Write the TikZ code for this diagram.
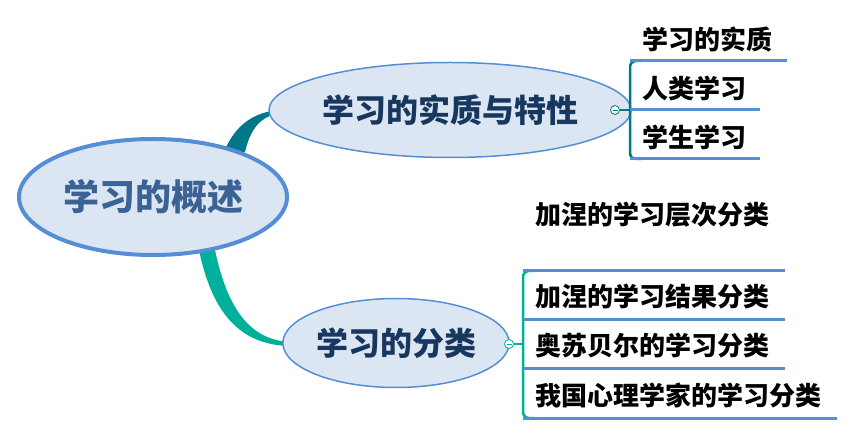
\documentclass[tikz,border=0pt]{standalone}
\usepackage{fontspec}
\setmainfont{Noto Sans CJK SC}
\usetikzlibrary{shapes.geometric,calc}
\definecolor{efill}{HTML}{DCE6F2}
\definecolor{eline}{HTML}{558ED5}
\definecolor{ctext}{HTML}{3A6294}
\definecolor{ntext}{HTML}{17375E}
\definecolor{tealA}{HTML}{00788A}
\definecolor{tealB}{HTML}{00B09B}
\tikzset{
  mainell/.style={ellipse, draw=eline, fill=efill, line width=4pt, inner sep=0pt},
  subell/.style={ellipse, draw=eline, fill=efill, line width=1.5pt, inner sep=0pt, text=ntext, font=\fontsize{32}{36}\selectfont\bfseries},
  leaf/.style={anchor=west, inner sep=0pt, font=\fontsize{26}{30}\selectfont\bfseries, text=black},
  uline/.style={draw=eline, line width=3pt},
  knob/.style={circle, draw=#1, fill=white, line width=0.8pt, minimum size=9pt, inner sep=0pt},
  brk/.style={draw=#1, line width=2.5pt, rounded corners=6pt}
}
\begin{document}
\begin{tikzpicture}[x=1pt,y=-1pt]
\useasboundingbox (0,0) rectangle (854,435);
% tapered connectors
\fill[tealA] (224,152) .. controls (238,118) and (262,109) .. (294,109)
  -- (294,112) .. controls (266,112) and (252,122) .. (245,152) -- cycle;
\fill[tealB] (199,250) .. controls (213,318) and (244,346) .. (292,346)
  -- (292,342) .. controls (252,341) and (228,312) .. (215,250) -- cycle;
% ellipses
\node[mainell, minimum width=268pt, minimum height=116pt, text=ctext,
  font=\fontsize{36}{40}\selectfont\bfseries] (c) at (153,197) {学习的概述};
\node[subell, minimum width=315pt, minimum height=95pt] (t) at (450,110) {学习的实质与特性};
\node[subell, minimum width=211pt, minimum height=89pt] (b) at (396,343) {学习的分类};
% top branch
\node[knob=tealA] (tk) at (615,110) {};
\draw[tealA, line width=0.8pt] ($(tk.center)+(-2.5,0)$) -- ($(tk.center)+(2.5,0)$);
\coordinate (tj) at (630,110);
\draw[tealA, line width=2.5pt] (tk.east) -- (tj);
\draw[brk=tealA] (642,61) -- (630,61) -- (630,159) -- (642,159);
\coordinate (t1a) at (630,61);  \coordinate (t1b) at (787,61);
\coordinate (t2a) at (630,110); \coordinate (t2b) at (760,110);
\coordinate (t3a) at (630,159); \coordinate (t3b) at (760,159);
\draw[uline] (t1a) -- (t1b);
\draw[uline] (t2a) -- (t2b);
\draw[uline] (t3a) -- (t3b);
\node[leaf] (l1) at (642,39) {学习的实质};
\node[leaf] (l2) at (642,88) {人类学习};
\node[leaf] (l3) at (642,137) {学生学习};
% floating
\node[leaf] (f) at (535,215) {加涅的学习层次分类};
% bottom branch
\node[knob=tealB] (bk) at (509,344) {};
\draw[tealB, line width=0.8pt] ($(bk.center)+(-2.5,0)$) -- ($(bk.center)+(2.5,0)$);
\coordinate (bj) at (523,344);
\draw[tealB, line width=2.5pt] (bk.east) -- (bj);
\draw[brk=tealB] (535,271) -- (523,271) -- (523,418) -- (535,418);
\coordinate (b1a) at (523,271); \coordinate (b1b) at (785,271);
\coordinate (b2a) at (523,320); \coordinate (b2b) at (785,320);
\coordinate (b3a) at (523,369); \coordinate (b3b) at (785,369);
\coordinate (b4a) at (523,418); \coordinate (b4b) at (837,418);
\draw[uline] (b1a) -- (b1b);
\draw[uline] (b2a) -- (b2b);
\draw[uline] (b3a) -- (b3b);
\draw[uline] (b4a) -- (b4b);
\node[leaf] (m1) at (535,297) {加涅的学习结果分类};
\node[leaf] (m2) at (535,346) {奥苏贝尔的学习分类};
\node[leaf] (m3) at (535,396) {我国心理学家的学习分类};
\end{tikzpicture}
\end{document}
